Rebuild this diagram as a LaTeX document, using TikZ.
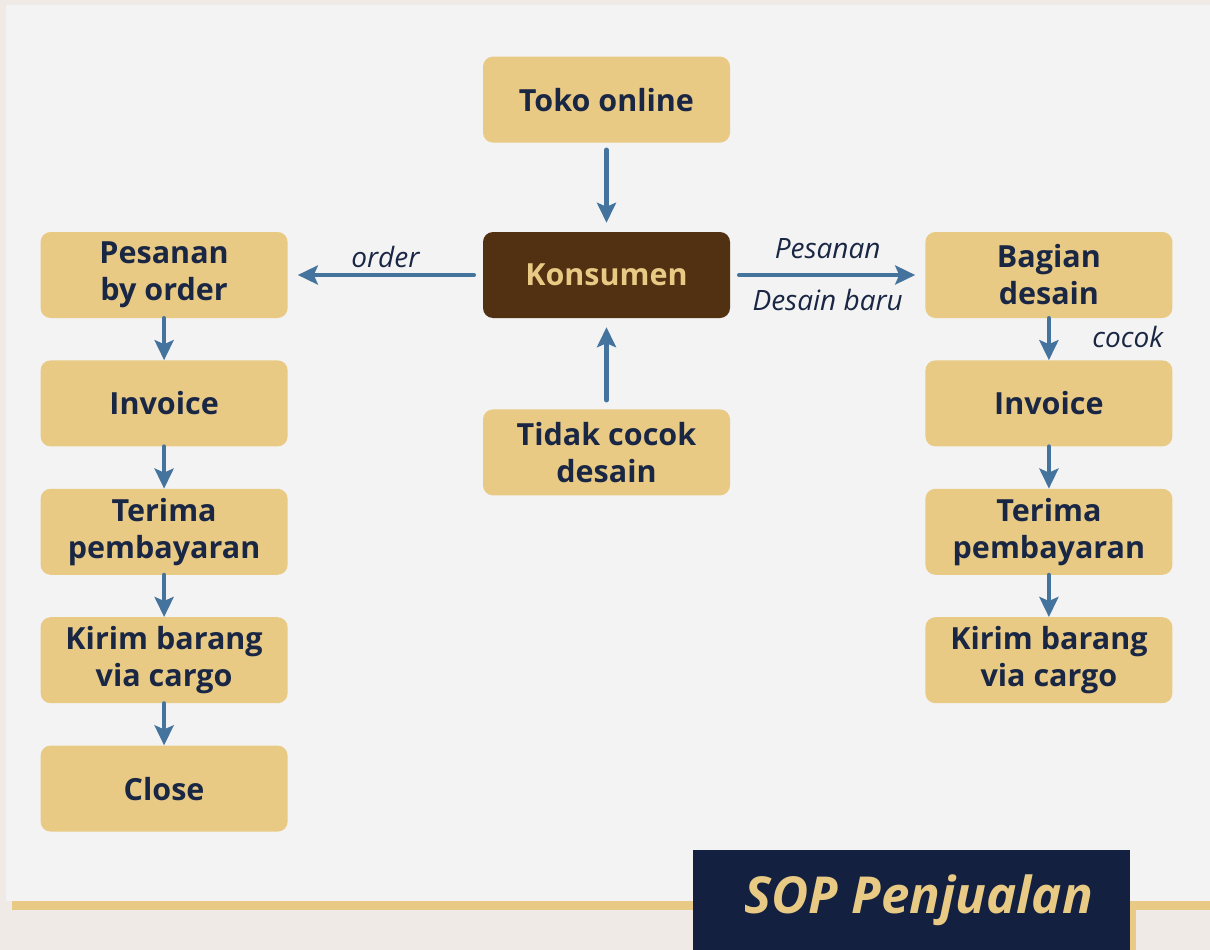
\documentclass[tikz,border=0pt]{standalone}
\usepackage{fontspec}
\setmainfont{Open Sans}
\usetikzlibrary{positioning,arrows.meta}
\definecolor{SopBack}{RGB}{239,234,229}
\definecolor{SopPanel}{RGB}{243,243,243}
\definecolor{SopTan}{RGB}{232,202,133}
\definecolor{SopBrown}{RGB}{82,48,18}
\definecolor{SopNavy}{RGB}{19,32,63}
\definecolor{SopBlue}{RGB}{68,115,158}
\definecolor{SopText}{RGB}{26,39,68}

\begin{document}
\begin{tikzpicture}[x=1pt,y=-1pt,
  box/.style={fill=SopTan,rounded corners=10pt,minimum width=247pt,minimum height=86pt,inner sep=0pt,
    align=center,text=SopText,font=\fontsize{30.5}{37}\selectfont\bfseries},
  flow/.style={-{Stealth[length=20pt,width=19pt,inset=4pt]},line width=4.5pt,line cap=round,SopBlue},
  lbl/.style={font=\fontsize{28}{32}\selectfont\itshape,text=SopText}]
  % background and panel
  \fill[SopBack] (0,0) rectangle (1210,950);
  \fill[SopPanel] (6,5) rectangle (1210,901);
  \fill[SopTan] (12,901) rectangle (1210,910);
  \useasboundingbox (0,0) rectangle (1210,950);

  % centre
  \node[box,fill=SopBrown,text=SopTan] (kons) at (606.5,275) {Konsumen};
  \node[box,above=89pt of kons] (toko) {Toko online};
  \node[box,below=91pt of kons] (tidak) {Tidak cocok\\desain};

  % left column
  \node[box,left=195pt of kons] (pesan) {Pesanan\\by order};
  \node[box,below=42pt of pesan] (inv1) {Invoice};
  \node[box,below=42pt of inv1] (bayar1) {Terima\\pembayaran};
  \node[box,below=42pt of bayar1] (kirim1) {Kirim barang\\via cargo};
  \node[box,below=42pt of kirim1] (close) {Close};

  % right column
  \node[box,right=195pt of kons] (desain) {Bagian\\desain};
  \node[box,below=42pt of desain] (inv2) {Invoice};
  \node[box,below=42pt of inv2] (bayar2) {Terima\\pembayaran};
  \node[box,below=42pt of bayar2] (kirim2) {Kirim barang\\via cargo};

  % connectors
  \draw[flow,shorten <=7pt,shorten >=9pt] (toko) -- (kons);
  \draw[flow,shorten <=9pt,shorten >=9pt] (tidak) -- (kons);
  \draw[flow,shorten <=9pt,shorten >=10pt] (kons) -- node[lbl,above=2pt] (order) {order} (pesan);
  \draw[flow,shorten <=9pt,shorten >=10pt] (kons) -- node[lbl,above=11pt] (pesanan) {Pesanan}
    node[lbl,below=9pt] (baru) {Desain baru} (desain);
  \draw[flow] (pesan) -- (inv1);
  \draw[flow] (inv1) -- (bayar1);
  \draw[flow] (bayar1) -- (kirim1);
  \draw[flow] (kirim1) -- (close);
  \draw[flow] (desain) -- node[lbl,right=38pt,yshift=2pt] (cocok) {cocok} (inv2);
  \draw[flow] (inv2) -- (bayar2);
  \draw[flow] (bayar2) -- (kirim2);

  % title tab
  \fill[SopTan] (1130,901) rectangle (1136,950);
  \node[fill=SopNavy,minimum width=437pt,minimum height=100pt,inner sep=0pt,anchor=north west,
    text=SopTan,font=\fontsize{51}{54}\selectfont\bfseries\itshape] (title) at (693,850) {\raisebox{-4pt}{\hspace{14pt}SOP Penjualan}};
\end{tikzpicture}
\end{document}
